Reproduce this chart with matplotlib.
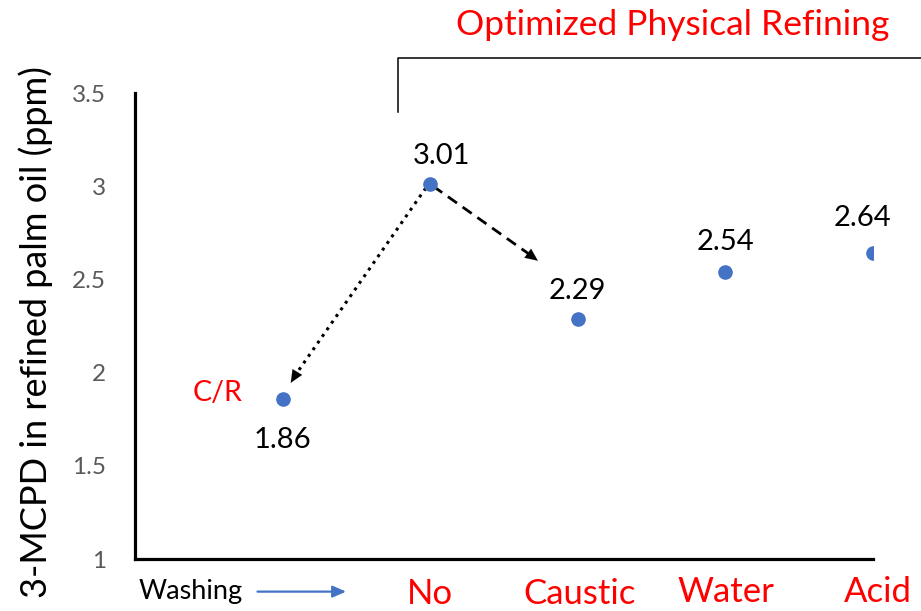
import matplotlib
matplotlib.use("Agg")
import matplotlib.pyplot as plt
import matplotlib.transforms as mtransforms

plt.rcParams['font.family'] = ['Lato', 'DejaVu Sans']

# Data
categories = ["C/R", "No", "Caustic", "Water", "Acid"]
values = [1.86, 3.01, 2.29, 2.54, 2.64]
value_labels = ["1.86", "3.01", "2.29", "2.54", "2.64"]
yticks = [1, 1.5, 2, 2.5, 3, 3.5]
ytick_labels = ["1", "1.5", "2", "2.5", "3", "3.5"]

BLUE = "#4472C4"
RED = "#FF0000"

fig = plt.figure(figsize=(9.21, 6.11), dpi=100)
ax = fig.add_axes([135/921, 52/611, 738/921, 466/611])

xs = list(range(len(categories)))
ax.plot(xs, values, linestyle='none', marker='o', markersize=9.5,
        color=BLUE, zorder=5)

ax.set_xlim(-1.0, 4.0)
ax.set_ylim(1, 3.5)
ax.set_yticks(yticks)
ax.set_yticklabels(ytick_labels, fontsize=17.5, color='#595959')
ax.tick_params(axis='y', length=0, pad=21)
ax.set_xticks([])
for s in ['top', 'right']:
    ax.spines[s].set_visible(False)
for s in ['left', 'bottom']:
    ax.spines[s].set_linewidth(2.3)
    ax.spines[s].set_color('black')

# value labels
label_offsets = [(0.0, -0.22), (0.08, 0.15), (0.0, 0.15), (0.0, 0.16), (-0.07, 0.19)]
for x, v, t, (dx, dy) in zip(xs, values, value_labels, label_offsets):
    ax.text(x + dx, v + dy, t, fontsize=21, ha='center', va='center', color='black')

# C/R label
ax.text(-0.44, 1.89, categories[0], fontsize=20.5, color=RED, ha='center', va='center')

# category labels under axis
trans = mtransforms.blended_transform_factory(ax.transData, ax.transAxes)
cat_y = [None, -0.076, -0.075, -0.071, -0.071]
cat_dx = [0, 0, 0.01, 0, 0.03]
for x, c, yy, dx in zip(xs[1:], categories[1:], cat_y[1:], cat_dx[1:]):
    ax.text(x + dx, yy, c, fontsize=25, color=RED, ha='center', va='center',
            transform=trans)

# Washing label with blue arrow
ax.text(-0.62, -0.07, "Washing", fontsize=19.5, color='black', ha='center',
        va='center', transform=trans)
ax.annotate("", xy=(0.43, -0.07), xytext=(-0.17, -0.07), xycoords=trans,
            textcoords=trans, annotation_clip=False,
            arrowprops=dict(arrowstyle='-|>,head_length=0.8,head_width=0.35',
                            color=BLUE, lw=1.6, shrinkA=0, shrinkB=0))

# dotted arrow from No to C/R
tipA = (0.055, 1.945)
startA = (0.97, 2.99)
ax.plot([startA[0], tipA[0] + 0.03], [startA[1], tipA[1] + 0.04], linestyle=':',
        color='black', lw=2.2, zorder=3)
ax.annotate("", xy=tipA, xytext=(tipA[0] + 0.05, tipA[1] + 0.065),
            arrowprops=dict(arrowstyle='-|>,head_length=0.9,head_width=0.4',
                            color='black', lw=0.1, shrinkA=0, shrinkB=0))

# dashed arrow from No to Caustic
tipB = (1.73, 2.60)
startB = (1.02, 3.00)
ax.plot([startB[0], tipB[0] - 0.05], [startB[1], tipB[1] + 0.03], linestyle=(0, (4, 2.5)),
        color='black', lw=2.0, zorder=3)
ax.annotate("", xy=tipB, xytext=(tipB[0] - 0.06, tipB[1] + 0.035),
            arrowprops=dict(arrowstyle='-|>,head_length=0.9,head_width=0.4',
                            color='black', lw=0.1, shrinkA=0, shrinkB=0))

# bracket for Optimized Physical Refining
ax.plot([0.785, 0.785, 4.4], [3.40, 3.69, 3.69], color='black', lw=1.1,
        clip_on=False)
fig.text(673/921, 1 - 25/611, "Optimized Physical Refining", fontsize=25.5,
         color=RED, ha='center', va='center')

# y-axis label
fig.text(36/921, 1 - 332/611, "3-MCPD in refined palm oil (ppm)", fontsize=26,
         rotation=90, ha='center', va='center', color='black')

fig.savefig("out.png", dpi=100)
